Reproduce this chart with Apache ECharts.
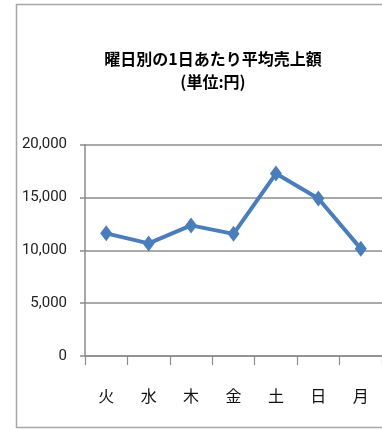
<!DOCTYPE html>
<html>
<head>
<meta charset="utf-8">
<script src="https://cdn.jsdelivr.net/npm/echarts@6/dist/echarts.min.js"></script>
<style>
  html, body { margin: 0; padding: 0; background: #fff; overflow: hidden; }
  #chart { width: 382px; height: 431px; }
</style>
</head>
<body>
<div id="chart"></div>
<script>
// Average daily sales per weekday (yen)
const days = ['火', '水', '木', '金', '土', '日', '月'];
const sales = [11600, 10650, 12350, 11550, 17250, 14900, 10150];
const yTicks = [0, 5000, 10000, 15000, 20000];

const chart = echarts.init(document.getElementById('chart'));
const fmt = v => v.toLocaleString('en-US');
const frameStyle = { stroke: '#a6a6a6', lineWidth: 1.5 };

chart.setOption({
  animation: false,
  backgroundColor: '#fff',
  graphic: [
    // chart-area frame: top, left and bottom edges
    { type: 'line', silent: true, shape: { x1: 16, y1: 4.5, x2: 382, y2: 4.5 }, style: frameStyle },
    { type: 'line', silent: true, shape: { x1: 16.5, y1: 4, x2: 16.5, y2: 428 }, style: frameStyle },
    { type: 'line', silent: true, shape: { x1: 16, y1: 427.5, x2: 382, y2: 427.5 }, style: frameStyle }
  ],
  title: {
    text: '曜日別の1日あたり平均売上額\n(単位:円)',
    left: 208,
    textAlign: 'center',
    top: 42,
    textStyle: {
      fontFamily: 'Noto Sans CJK JP',
      fontWeight: 'bold',
      fontSize: 16,
      lineHeight: 23,
      color: '#000'
    }
  },
  grid: { left: 85, top: 144.5, width: 298, height: 211.5 },
  xAxis: {
    type: 'category',
    data: days,
    boundaryGap: true,
    axisLine: { lineStyle: { color: '#8c8c8c', width: 1.5 } },
    axisTick: { show: true, length: 9, lineStyle: { color: '#8c8c8c', width: 1.2 } },
    axisLabel: {
      margin: 32,
      fontFamily: 'Noto Sans CJK JP',
      fontSize: 16,
      color: '#111'
    }
  },
  yAxis: {
    type: 'value',
    min: yTicks[0],
    max: yTicks[yTicks.length - 1],
    interval: yTicks[1] - yTicks[0],
    axisLine: { show: true, lineStyle: { color: '#8c8c8c', width: 1.5 } },
    axisTick: { show: true, length: 5, lineStyle: { color: '#8c8c8c', width: 1.5 } },
    splitLine: { lineStyle: { color: '#8c8c8c', width: 1.5 } },
    axisLabel: {
      margin: 18,
      fontFamily: 'Liberation Sans Narrow, Roboto, sans-serif',
      fontSize: 15,
      color: '#222',
      formatter: fmt
    }
  },
  series: [{
    type: 'line',
    data: sales,
    symbol: 'diamond',
    symbolSize: [12, 16],
    lineStyle: { color: '#4a7ebb', width: 4 },
    itemStyle: { color: '#4a7ebb' }
  }]
});
</script>
</body>
</html>
